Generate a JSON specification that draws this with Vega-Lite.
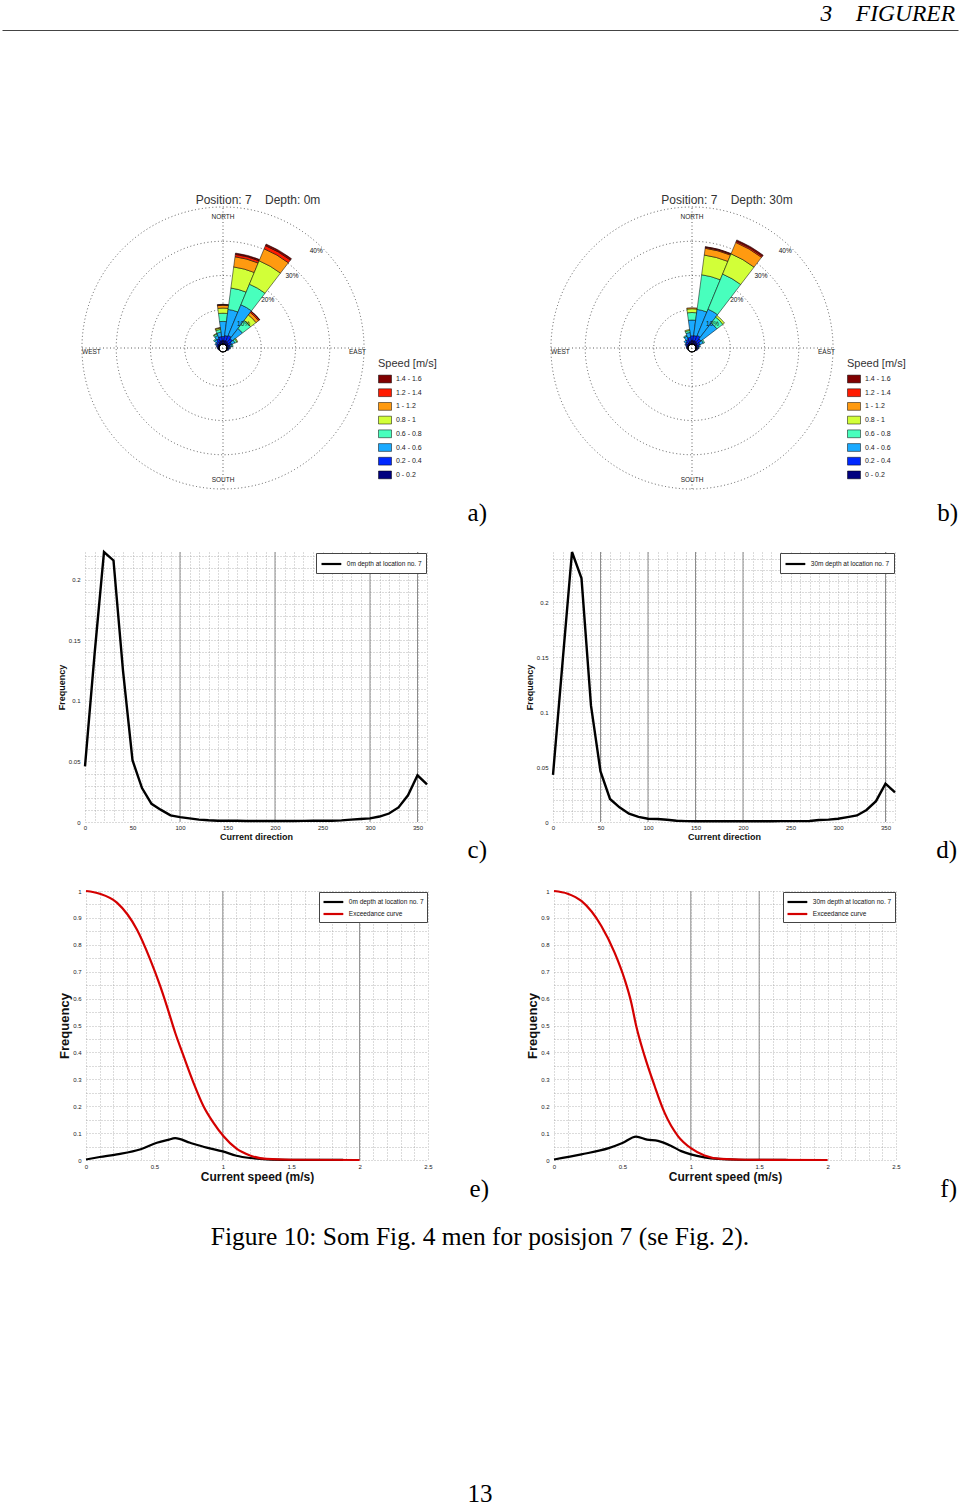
{
"$schema": "https://vega.github.io/schema/vega-lite/v6.json",
"background": "white",
"padding": {"left": 2, "right": 2, "top": 1, "bottom": 0},
"config": {"view": {"stroke": null}, "font": "Liberation Sans", "concat": {"spacing": 0}},
"datasets": {
"one": [{}],
"rings": [{"ring": 10, "label": "10%"}, {"ring": 20, "label": "20%"}, {"ring": 30, "label": "30%"}, {"ring": 40, "label": "40%"}],
"solid_c": [{"v": 100}, {"v": 200}, {"v": 300}, {"v": 350}],
"solid_d": [{"v": 50}, {"v": 100}, {"v": 150}, {"v": 200}, {"v": 350}],
"solid_e": [{"v": 1}, {"v": 2}],
"solid_f": [{"v": 1}, {"v": 1.5}],
"rose0": [
{"a0":-7.5,"a1":7.5,"s":"0 - 0.2","r0":0,"r1":1.0},
{"a0":-7.5,"a1":7.5,"s":"0.2 - 0.4","r0":1.0,"r1":2.2},
{"a0":-7.5,"a1":7.5,"s":"0.4 - 0.6","r0":2.2,"r1":6.6},
{"a0":-7.5,"a1":7.5,"s":"0.6 - 0.8","r0":6.6,"r1":9.0},
{"a0":-7.5,"a1":7.5,"s":"0.8 - 1","r0":9.0,"r1":10.5},
{"a0":-7.5,"a1":7.5,"s":"1 - 1.2","r0":10.5,"r1":11.3},
{"a0":-7.5,"a1":7.5,"s":"1.2 - 1.4","r0":11.3,"r1":11.5},
{"a0":-7.5,"a1":7.5,"s":"1.4 - 1.6","r0":11.5,"r1":11.6},
{"a0":7.5,"a1":22.5,"s":"0 - 0.2","r0":0,"r1":1.0},
{"a0":7.5,"a1":22.5,"s":"0.2 - 0.4","r0":1.0,"r1":2.5},
{"a0":7.5,"a1":22.5,"s":"0.4 - 0.6","r0":2.5,"r1":10.2},
{"a0":7.5,"a1":22.5,"s":"0.6 - 0.8","r0":10.2,"r1":16.5},
{"a0":7.5,"a1":22.5,"s":"0.8 - 1","r0":16.5,"r1":22.7},
{"a0":7.5,"a1":22.5,"s":"1 - 1.2","r0":22.7,"r1":25.7},
{"a0":7.5,"a1":22.5,"s":"1.2 - 1.4","r0":25.7,"r1":26.4},
{"a0":7.5,"a1":22.5,"s":"1.4 - 1.6","r0":26.4,"r1":26.8},
{"a0":22.5,"a1":37.5,"s":"0 - 0.2","r0":0,"r1":1.0},
{"a0":22.5,"a1":37.5,"s":"0.2 - 0.4","r0":1.0,"r1":2.8},
{"a0":22.5,"a1":37.5,"s":"0.4 - 0.6","r0":2.8,"r1":12.5},
{"a0":22.5,"a1":37.5,"s":"0.6 - 0.8","r0":12.5,"r1":19.0},
{"a0":22.5,"a1":37.5,"s":"0.8 - 1","r0":19.0,"r1":26.4},
{"a0":22.5,"a1":37.5,"s":"1 - 1.2","r0":26.4,"r1":30.2},
{"a0":22.5,"a1":37.5,"s":"1.2 - 1.4","r0":30.2,"r1":31.2},
{"a0":22.5,"a1":37.5,"s":"1.4 - 1.6","r0":31.2,"r1":31.7},
{"a0":37.5,"a1":52.5,"s":"0 - 0.2","r0":0,"r1":0.8},
{"a0":37.5,"a1":52.5,"s":"0.2 - 0.4","r0":0.8,"r1":2.3},
{"a0":37.5,"a1":52.5,"s":"0.4 - 0.6","r0":2.3,"r1":6.0},
{"a0":37.5,"a1":52.5,"s":"0.6 - 0.8","r0":6.0,"r1":9.0},
{"a0":37.5,"a1":52.5,"s":"0.8 - 1","r0":9.0,"r1":11.0},
{"a0":37.5,"a1":52.5,"s":"1 - 1.2","r0":11.0,"r1":11.9},
{"a0":37.5,"a1":52.5,"s":"1.2 - 1.4","r0":11.9,"r1":12.3},
{"a0":37.5,"a1":52.5,"s":"1.4 - 1.6","r0":12.3,"r1":12.4},
{"a0":52.5,"a1":67.5,"s":"0 - 0.2","r0":0,"r1":0.6},
{"a0":52.5,"a1":67.5,"s":"0.2 - 0.4","r0":0.6,"r1":1.6},
{"a0":52.5,"a1":67.5,"s":"0.4 - 0.6","r0":1.6,"r1":2.6},
{"a0":52.5,"a1":67.5,"s":"0.6 - 0.8","r0":2.6,"r1":3.2},
{"a0":52.5,"a1":67.5,"s":"0.8 - 1","r0":3.2,"r1":3.5},
{"a0":67.5,"a1":82.5,"s":"0 - 0.2","r0":0,"r1":0.5},
{"a0":67.5,"a1":82.5,"s":"0.2 - 0.4","r0":0.5,"r1":1.0},
{"a0":67.5,"a1":82.5,"s":"0.4 - 0.6","r0":1.0,"r1":1.5},
{"a0":67.5,"a1":82.5,"s":"0.6 - 0.8","r0":1.5,"r1":1.8},
{"a0":82.5,"a1":97.5,"s":"0 - 0.2","r0":0,"r1":0.4},
{"a0":82.5,"a1":97.5,"s":"0.2 - 0.4","r0":0.4,"r1":0.8},
{"a0":82.5,"a1":97.5,"s":"0.4 - 0.6","r0":0.8,"r1":1.0},
{"a0":97.5,"a1":112.5,"s":"0 - 0.2","r0":0,"r1":0.3},
{"a0":97.5,"a1":112.5,"s":"0.2 - 0.4","r0":0.3,"r1":0.6},
{"a0":112.5,"a1":127.5,"s":"0 - 0.2","r0":0,"r1":0.3},
{"a0":247.5,"a1":262.5,"s":"0 - 0.2","r0":0,"r1":0.3},
{"a0":262.5,"a1":277.5,"s":"0 - 0.2","r0":0,"r1":0.3},
{"a0":262.5,"a1":277.5,"s":"0.2 - 0.4","r0":0.3,"r1":0.5},
{"a0":277.5,"a1":292.5,"s":"0 - 0.2","r0":0,"r1":0.4},
{"a0":277.5,"a1":292.5,"s":"0.2 - 0.4","r0":0.4,"r1":0.8},
{"a0":292.5,"a1":307.5,"s":"0 - 0.2","r0":0,"r1":0.5},
{"a0":292.5,"a1":307.5,"s":"0.2 - 0.4","r0":0.5,"r1":1.0},
{"a0":292.5,"a1":307.5,"s":"0.4 - 0.6","r0":1.0,"r1":1.4},
{"a0":307.5,"a1":322.5,"s":"0 - 0.2","r0":0,"r1":0.6},
{"a0":307.5,"a1":322.5,"s":"0.2 - 0.4","r0":0.6,"r1":1.3},
{"a0":307.5,"a1":322.5,"s":"0.4 - 0.6","r0":1.3,"r1":2.0},
{"a0":307.5,"a1":322.5,"s":"0.6 - 0.8","r0":2.0,"r1":2.3},
{"a0":322.5,"a1":337.5,"s":"0 - 0.2","r0":0,"r1":0.8},
{"a0":322.5,"a1":337.5,"s":"0.2 - 0.4","r0":0.8,"r1":1.8},
{"a0":322.5,"a1":337.5,"s":"0.4 - 0.6","r0":1.8,"r1":2.8},
{"a0":322.5,"a1":337.5,"s":"0.6 - 0.8","r0":2.8,"r1":3.3},
{"a0":322.5,"a1":337.5,"s":"0.8 - 1","r0":3.3,"r1":3.5},
{"a0":337.5,"a1":352.5,"s":"0 - 0.2","r0":0,"r1":1.0},
{"a0":337.5,"a1":352.5,"s":"0.2 - 0.4","r0":1.0,"r1":2.2},
{"a0":337.5,"a1":352.5,"s":"0.4 - 0.6","r0":2.2,"r1":3.5},
{"a0":337.5,"a1":352.5,"s":"0.6 - 0.8","r0":3.5,"r1":4.3},
{"a0":337.5,"a1":352.5,"s":"0.8 - 1","r0":4.3,"r1":4.7},
{"a0":337.5,"a1":352.5,"s":"1 - 1.2","r0":4.7,"r1":4.9}
],
"rose30": [
{"a0":-7.5,"a1":7.5,"s":"0 - 0.2","r0":0,"r1":1.0},
{"a0":-7.5,"a1":7.5,"s":"0.2 - 0.4","r0":1.0,"r1":2.4},
{"a0":-7.5,"a1":7.5,"s":"0.4 - 0.6","r0":2.4,"r1":7.0},
{"a0":-7.5,"a1":7.5,"s":"0.6 - 0.8","r0":7.0,"r1":9.2},
{"a0":-7.5,"a1":7.5,"s":"0.8 - 1","r0":9.2,"r1":10.3},
{"a0":-7.5,"a1":7.5,"s":"1 - 1.2","r0":10.3,"r1":10.6},
{"a0":7.5,"a1":22.5,"s":"0 - 0.2","r0":0,"r1":1.0},
{"a0":7.5,"a1":22.5,"s":"0.2 - 0.4","r0":1.0,"r1":2.5},
{"a0":7.5,"a1":22.5,"s":"0.4 - 0.6","r0":2.5,"r1":10.2},
{"a0":7.5,"a1":22.5,"s":"0.6 - 0.8","r0":10.2,"r1":20.4},
{"a0":7.5,"a1":22.5,"s":"0.8 - 1","r0":20.4,"r1":26.2},
{"a0":7.5,"a1":22.5,"s":"1 - 1.2","r0":26.2,"r1":28.2},
{"a0":7.5,"a1":22.5,"s":"1.2 - 1.4","r0":28.2,"r1":28.5},
{"a0":7.5,"a1":22.5,"s":"1.4 - 1.6","r0":28.5,"r1":28.7},
{"a0":22.5,"a1":37.5,"s":"0 - 0.2","r0":0,"r1":1.0},
{"a0":22.5,"a1":37.5,"s":"0.2 - 0.4","r0":1.0,"r1":2.8},
{"a0":22.5,"a1":37.5,"s":"0.4 - 0.6","r0":2.8,"r1":11.1},
{"a0":22.5,"a1":37.5,"s":"0.6 - 0.8","r0":11.1,"r1":22.2},
{"a0":22.5,"a1":37.5,"s":"0.8 - 1","r0":22.2,"r1":28.6},
{"a0":22.5,"a1":37.5,"s":"1 - 1.2","r0":28.6,"r1":32.2},
{"a0":22.5,"a1":37.5,"s":"1.2 - 1.4","r0":32.2,"r1":32.6},
{"a0":22.5,"a1":37.5,"s":"1.4 - 1.6","r0":32.6,"r1":33.0},
{"a0":37.5,"a1":52.5,"s":"0 - 0.2","r0":0,"r1":0.8},
{"a0":37.5,"a1":52.5,"s":"0.2 - 0.4","r0":0.8,"r1":2.2},
{"a0":37.5,"a1":52.5,"s":"0.4 - 0.6","r0":2.2,"r1":8.0},
{"a0":37.5,"a1":52.5,"s":"0.6 - 0.8","r0":8.0,"r1":10.2},
{"a0":37.5,"a1":52.5,"s":"0.8 - 1","r0":10.2,"r1":10.8},
{"a0":52.5,"a1":67.5,"s":"0 - 0.2","r0":0,"r1":0.6},
{"a0":52.5,"a1":67.5,"s":"0.2 - 0.4","r0":0.6,"r1":1.4},
{"a0":52.5,"a1":67.5,"s":"0.4 - 0.6","r0":1.4,"r1":2.4},
{"a0":52.5,"a1":67.5,"s":"0.6 - 0.8","r0":2.4,"r1":2.8},
{"a0":67.5,"a1":82.5,"s":"0 - 0.2","r0":0,"r1":0.4},
{"a0":67.5,"a1":82.5,"s":"0.2 - 0.4","r0":0.4,"r1":0.9},
{"a0":67.5,"a1":82.5,"s":"0.4 - 0.6","r0":0.9,"r1":1.3},
{"a0":82.5,"a1":97.5,"s":"0 - 0.2","r0":0,"r1":0.3},
{"a0":82.5,"a1":97.5,"s":"0.2 - 0.4","r0":0.3,"r1":0.7},
{"a0":82.5,"a1":97.5,"s":"0.4 - 0.6","r0":0.7,"r1":0.9},
{"a0":97.5,"a1":112.5,"s":"0 - 0.2","r0":0,"r1":0.3},
{"a0":97.5,"a1":112.5,"s":"0.2 - 0.4","r0":0.3,"r1":0.5},
{"a0":112.5,"a1":127.5,"s":"0 - 0.2","r0":0,"r1":0.3},
{"a0":247.5,"a1":262.5,"s":"0 - 0.2","r0":0,"r1":0.2},
{"a0":262.5,"a1":277.5,"s":"0 - 0.2","r0":0,"r1":0.3},
{"a0":262.5,"a1":277.5,"s":"0.2 - 0.4","r0":0.3,"r1":0.4},
{"a0":277.5,"a1":292.5,"s":"0 - 0.2","r0":0,"r1":0.3},
{"a0":277.5,"a1":292.5,"s":"0.2 - 0.4","r0":0.3,"r1":0.6},
{"a0":292.5,"a1":307.5,"s":"0 - 0.2","r0":0,"r1":0.4},
{"a0":292.5,"a1":307.5,"s":"0.2 - 0.4","r0":0.4,"r1":0.9},
{"a0":292.5,"a1":307.5,"s":"0.4 - 0.6","r0":0.9,"r1":1.1},
{"a0":307.5,"a1":322.5,"s":"0 - 0.2","r0":0,"r1":0.5},
{"a0":307.5,"a1":322.5,"s":"0.2 - 0.4","r0":0.5,"r1":1.2},
{"a0":307.5,"a1":322.5,"s":"0.4 - 0.6","r0":1.2,"r1":1.8},
{"a0":322.5,"a1":337.5,"s":"0 - 0.2","r0":0,"r1":0.6},
{"a0":322.5,"a1":337.5,"s":"0.2 - 0.4","r0":0.6,"r1":1.6},
{"a0":322.5,"a1":337.5,"s":"0.4 - 0.6","r0":1.6,"r1":2.6},
{"a0":322.5,"a1":337.5,"s":"0.6 - 0.8","r0":2.6,"r1":2.9},
{"a0":337.5,"a1":352.5,"s":"0 - 0.2","r0":0,"r1":0.8},
{"a0":337.5,"a1":352.5,"s":"0.2 - 0.4","r0":0.8,"r1":2.0},
{"a0":337.5,"a1":352.5,"s":"0.4 - 0.6","r0":2.0,"r1":3.4},
{"a0":337.5,"a1":352.5,"s":"0.6 - 0.8","r0":3.4,"r1":4.0},
{"a0":337.5,"a1":352.5,"s":"0.8 - 1","r0":4.0,"r1":4.3}
],
"dir0": [
{"direction":0,"frequency":0.046},{"direction":10,"frequency":0.138},{"direction":20,"frequency":0.223},{"direction":30,"frequency":0.216},
{"direction":40,"frequency":0.125},{"direction":50,"frequency":0.051},{"direction":60,"frequency":0.028},{"direction":70,"frequency":0.015},
{"direction":80,"frequency":0.01},{"direction":90,"frequency":0.0055},{"direction":100,"frequency":0.004},{"direction":110,"frequency":0.003},
{"direction":120,"frequency":0.002},{"direction":130,"frequency":0.0014},{"direction":140,"frequency":0.001},{"direction":150,"frequency":0.001},
{"direction":160,"frequency":0.001},{"direction":170,"frequency":0.0008},{"direction":180,"frequency":0.0008},{"direction":190,"frequency":0.0008},
{"direction":200,"frequency":0.0009},{"direction":210,"frequency":0.0008},{"direction":220,"frequency":0.0008},{"direction":230,"frequency":0.0009},
{"direction":240,"frequency":0.001},{"direction":250,"frequency":0.001},{"direction":260,"frequency":0.001},{"direction":270,"frequency":0.0013},
{"direction":280,"frequency":0.002},{"direction":290,"frequency":0.0025},{"direction":300,"frequency":0.003},{"direction":310,"frequency":0.0045},
{"direction":320,"frequency":0.007},{"direction":330,"frequency":0.012},{"direction":340,"frequency":0.022},{"direction":350,"frequency":0.0386},
{"direction":360,"frequency":0.031}
],
"dir30": [
{"direction":0,"frequency":0.043},{"direction":10,"frequency":0.145},{"direction":20,"frequency":0.246},{"direction":30,"frequency":0.222},
{"direction":40,"frequency":0.106},{"direction":50,"frequency":0.046},{"direction":60,"frequency":0.021},{"direction":70,"frequency":0.0134},
{"direction":80,"frequency":0.0076},{"direction":90,"frequency":0.0046},{"direction":100,"frequency":0.003},{"direction":110,"frequency":0.0027},
{"direction":120,"frequency":0.002},{"direction":130,"frequency":0.0012},{"direction":140,"frequency":0.0008},{"direction":150,"frequency":0.0007},
{"direction":160,"frequency":0.0007},{"direction":170,"frequency":0.0007},{"direction":180,"frequency":0.0007},{"direction":190,"frequency":0.0007},
{"direction":200,"frequency":0.0007},{"direction":210,"frequency":0.0007},{"direction":220,"frequency":0.0007},{"direction":230,"frequency":0.0007},
{"direction":240,"frequency":0.0008},{"direction":250,"frequency":0.0008},{"direction":260,"frequency":0.0008},{"direction":270,"frequency":0.0009},
{"direction":280,"frequency":0.0018},{"direction":290,"frequency":0.0022},{"direction":300,"frequency":0.003},{"direction":310,"frequency":0.0045},
{"direction":320,"frequency":0.006},{"direction":330,"frequency":0.011},{"direction":340,"frequency":0.019},{"direction":350,"frequency":0.035},
{"direction":360,"frequency":0.027}
],
"spd0": [
{"speed":0,"frequency":0.002,"series":"0m depth at location no. 7"},
{"speed":0.1,"frequency":0.011,"series":"0m depth at location no. 7"},
{"speed":0.226,"frequency":0.021,"series":"0m depth at location no. 7"},
{"speed":0.4,"frequency":0.04,"series":"0m depth at location no. 7"},
{"speed":0.518,"frequency":0.064,"series":"0m depth at location no. 7"},
{"speed":0.6,"frequency":0.075,"series":"0m depth at location no. 7"},
{"speed":0.652,"frequency":0.081,"series":"0m depth at location no. 7"},
{"speed":0.761,"frequency":0.064,"series":"0m depth at location no. 7"},
{"speed":0.883,"frequency":0.046,"series":"0m depth at location no. 7"},
{"speed":1.0,"frequency":0.032,"series":"0m depth at location no. 7"},
{"speed":1.1,"frequency":0.016,"series":"0m depth at location no. 7"},
{"speed":1.2,"frequency":0.0075,"series":"0m depth at location no. 7"},
{"speed":1.32,"frequency":0.0025,"series":"0m depth at location no. 7"},
{"speed":1.5,"frequency":0.0008,"series":"0m depth at location no. 7"},
{"speed":1.88,"frequency":0.0002,"series":"0m depth at location no. 7"},
{"speed":0,"frequency":1.0,"series":"Exceedance curve"},
{"speed":0.1,"frequency":0.99,"series":"Exceedance curve"},
{"speed":0.226,"frequency":0.957,"series":"Exceedance curve"},
{"speed":0.372,"frequency":0.857,"series":"Exceedance curve"},
{"speed":0.469,"frequency":0.746,"series":"Exceedance curve"},
{"speed":0.542,"frequency":0.647,"series":"Exceedance curve"},
{"speed":0.591,"frequency":0.572,"series":"Exceedance curve"},
{"speed":0.652,"frequency":0.473,"series":"Exceedance curve"},
{"speed":0.713,"frequency":0.387,"series":"Exceedance curve"},
{"speed":0.786,"frequency":0.287,"series":"Exceedance curve"},
{"speed":0.858,"frequency":0.201,"series":"Exceedance curve"},
{"speed":0.931,"frequency":0.139,"series":"Exceedance curve"},
{"speed":1.004,"frequency":0.089,"series":"Exceedance curve"},
{"speed":1.1,"frequency":0.042,"series":"Exceedance curve"},
{"speed":1.199,"frequency":0.017,"series":"Exceedance curve"},
{"speed":1.32,"frequency":0.004,"series":"Exceedance curve"},
{"speed":1.5,"frequency":0.001,"series":"Exceedance curve"},
{"speed":2.0,"frequency":0,"series":"Exceedance curve"}
],
"spd30": [
{"speed":0,"frequency":0.002,"series":"30m depth at location no. 7"},
{"speed":0.2,"frequency":0.021,"series":"30m depth at location no. 7"},
{"speed":0.4,"frequency":0.044,"series":"30m depth at location no. 7"},
{"speed":0.5,"frequency":0.063,"series":"30m depth at location no. 7"},
{"speed":0.6,"frequency":0.087,"series":"30m depth at location no. 7"},
{"speed":0.68,"frequency":0.076,"series":"30m depth at location no. 7"},
{"speed":0.76,"frequency":0.071,"series":"30m depth at location no. 7"},
{"speed":0.857,"frequency":0.052,"series":"30m depth at location no. 7"},
{"speed":0.93,"frequency":0.033,"series":"30m depth at location no. 7"},
{"speed":1.0,"frequency":0.021,"series":"30m depth at location no. 7"},
{"speed":1.1,"frequency":0.01,"series":"30m depth at location no. 7"},
{"speed":1.2,"frequency":0.004,"series":"30m depth at location no. 7"},
{"speed":1.35,"frequency":0.001,"series":"30m depth at location no. 7"},
{"speed":1.7,"frequency":0.0002,"series":"30m depth at location no. 7"},
{"speed":0,"frequency":1.0,"series":"Exceedance curve"},
{"speed":0.1,"frequency":0.99,"series":"Exceedance curve"},
{"speed":0.2,"frequency":0.963,"series":"Exceedance curve"},
{"speed":0.346,"frequency":0.87,"series":"Exceedance curve"},
{"speed":0.443,"frequency":0.771,"series":"Exceedance curve"},
{"speed":0.516,"frequency":0.672,"series":"Exceedance curve"},
{"speed":0.565,"frequency":0.585,"series":"Exceedance curve"},
{"speed":0.601,"frequency":0.498,"series":"Exceedance curve"},
{"speed":0.662,"frequency":0.387,"series":"Exceedance curve"},
{"speed":0.735,"frequency":0.276,"series":"Exceedance curve"},
{"speed":0.808,"frequency":0.176,"series":"Exceedance curve"},
{"speed":0.906,"frequency":0.089,"series":"Exceedance curve"},
{"speed":1.003,"frequency":0.043,"series":"Exceedance curve"},
{"speed":1.1,"frequency":0.017,"series":"Exceedance curve"},
{"speed":1.22,"frequency":0.004,"series":"Exceedance curve"},
{"speed":1.4,"frequency":0.001,"series":"Exceedance curve"},
{"speed":2.0,"frequency":0,"series":"Exceedance curve"}
]
},
"spacing": 0,
"resolve": {"scale": {"color": "independent"}, "legend": {"color": "independent"}},
"vconcat": [
{"width": 956, "height": 28, "data": {"name": "one"},
 "mark": {"type": "text", "align": "right", "baseline": "alphabetic", "font": "Liberation Serif", "fontSize": 23.5, "fontStyle": "italic", "dy": 4.8, "color": "black"},
 "encoding": {
  "x": {"datum": 953, "type": "quantitative", "scale": {"domain": [0, 956], "nice": false, "zero": false}, "axis": {"domain": true, "domainColor": "#444", "domainWidth": 1, "ticks": false, "labels": false, "grid": false, "title": null}},
  "text": {"value": "3\u00a0\u00a0\u00a0\u00a0FIGURER"}}},
{"width": 956, "height": 163.8, "data": {"name": "one"}, "mark": "text", "encoding": {"text": {"value": ""}}},
{"hconcat": [
 {"width": 79.7, "height": 1, "data": {"name": "one"}, "mark": "text", "encoding": {"text": {"value": ""}}},
 {"width": 282, "height": 282,
  "title": {"text": "Position: 7\u00a0\u00a0\u00a0\u00a0Depth: 0m", "dx": 35, "fontSize": 12, "fontWeight": "normal", "font": "Liberation Sans", "color": "#333", "offset": -2},
  "layer": [
   {"data": {"name": "rings"}, "mark": {"type": "arc", "filled": false, "fill": null, "stroke": "#333", "strokeWidth": 0.8, "strokeDash": [1, 2.5]},
    "encoding": {"theta": {"datum": 0, "type": "quantitative", "scale": {"domain": [0, 360], "range": [0, 6.283185307179586]}}, "theta2": {"datum": 360},
     "radius": {"field": "ring", "type": "quantitative", "stack": null, "scale": {"type": "linear", "domain": [0, 40], "range": [4, 141], "zero": false}}}},
   {"data": {"name": "one"}, "mark": {"type": "rule", "stroke": "#333", "strokeWidth": 0.8, "strokeDash": [1, 2.5]},
    "encoding": {"x": {"datum": -40, "type": "quantitative", "scale": {"domain": [-40, 40], "nice": false, "zero": false}, "axis": null}, "x2": {"datum": 40},
     "y": {"datum": 0, "type": "quantitative", "scale": {"domain": [-40, 40], "nice": false, "zero": false}, "axis": null}}},
   {"data": {"name": "one"}, "mark": {"type": "rule", "stroke": "#333", "strokeWidth": 0.8, "strokeDash": [1, 2.5]},
    "encoding": {"x": {"datum": 0, "type": "quantitative"}, "y": {"datum": -40, "type": "quantitative"}, "y2": {"datum": 40}}},
   {"data": {"name": "rose0"}, "mark": {"type": "arc", "stroke": "#000", "strokeWidth": 0.5},
    "encoding": {
     "theta": {"field": "a0", "type": "quantitative", "stack": null}, "theta2": {"field": "a1"},
     "radius": {"field": "r1", "type": "quantitative", "stack": null}, "radius2": {"field": "r0"},
     "color": {"field": "s", "type": "nominal",
      "scale": {"domain": ["1.4 - 1.6", "1.2 - 1.4", "1 - 1.2", "0.8 - 1", "0.6 - 0.8", "0.4 - 0.6", "0.2 - 0.4", "0 - 0.2"],
                "range": ["#800000", "#ff1a00", "#ff9a10", "#d2ff38", "#48ffbd", "#1aaaff", "#0028ff", "#00007f"]},
      "legend": {"title": "Speed [m/s]", "orient": "none", "legendX": 296, "legendY": 151, "titleFontSize": 11, "titleFont": "Liberation Sans", "titleFontWeight": "normal", "titleColor": "#333", "titlePadding": 3,
                 "labelFontSize": 7, "labelFont": "Liberation Sans", "labelColor": "#222", "labelOffset": 4, "symbolType": "M-1,-0.6H1V0.6H-1Z", "symbolSize": 169,
                 "symbolStrokeColor": "black", "symbolStrokeWidth": 0.5, "rowPadding": 1.7, "padding": 0}}}},
   {"data": {"name": "one"}, "mark": {"type": "arc", "fill": "white", "stroke": "black", "strokeWidth": 1},
    "encoding": {"theta": {"datum": 0, "type": "quantitative"}, "theta2": {"datum": 360}, "radius": {"datum": 0, "type": "quantitative"}}},
   {"data": {"name": "rings"}, "mark": {"type": "text", "align": "right", "baseline": "top", "fontSize": 6.5, "font": "Liberation Sans", "color": "#111"},
    "encoding": {"theta": {"datum": 45, "type": "quantitative"}, "radius": {"field": "ring", "type": "quantitative", "stack": null}, "text": {"field": "label"}}},
   {"data": {"name": "one"}, "mark": {"type": "text", "align": "center", "baseline": "middle", "dy": 9.5, "fontSize": 6.5, "font": "Liberation Sans", "color": "#222"},
    "encoding": {"theta": {"datum": 0, "type": "quantitative"}, "radius": {"datum": 40, "type": "quantitative"}, "text": {"value": "NORTH"}}},
   {"data": {"name": "one"}, "mark": {"type": "text", "align": "center", "baseline": "middle", "dy": -9.3, "fontSize": 6.5, "font": "Liberation Sans", "color": "#222"},
    "encoding": {"theta": {"datum": 180, "type": "quantitative"}, "radius": {"datum": 40, "type": "quantitative"}, "text": {"value": "SOUTH"}}},
   {"data": {"name": "one"}, "mark": {"type": "text", "align": "left", "baseline": "middle", "dy": 4.4, "fontSize": 6.5, "font": "Liberation Sans", "color": "#222"},
    "encoding": {"theta": {"datum": 270, "type": "quantitative"}, "radius": {"datum": 40, "type": "quantitative"}, "text": {"value": "WEST"}}},
   {"data": {"name": "one"}, "mark": {"type": "text", "align": "right", "baseline": "middle", "dy": 4.4, "dx": 2, "fontSize": 6.5, "font": "Liberation Sans", "color": "#222"},
    "encoding": {"theta": {"datum": 90, "type": "quantitative"}, "radius": {"datum": 40, "type": "quantitative"}, "text": {"value": "EAST"}}},
   {"data": {"name": "one"}, "mark": {"type": "text", "align": "right", "baseline": "alphabetic", "font": "Liberation Serif", "fontSize": 25, "color": "black", "dx": 123, "dy": 31.7},
    "encoding": {"x": {"value": "width"}, "y": {"value": "height"}, "text": {"value": "a)"}}}
  ]},
 {"width": 186.3, "height": 1, "data": {"name": "one"}, "mark": "text", "encoding": {"text": {"value": ""}}},
 {"width": 282, "height": 282,
  "title": {"text": "Position: 7\u00a0\u00a0\u00a0\u00a0Depth: 30m", "dx": 35, "fontSize": 12, "fontWeight": "normal", "font": "Liberation Sans", "color": "#333", "offset": -2},
  "layer": [
   {"data": {"name": "rings"}, "mark": {"type": "arc", "filled": false, "fill": null, "stroke": "#333", "strokeWidth": 0.8, "strokeDash": [1, 2.5]},
    "encoding": {"theta": {"datum": 0, "type": "quantitative", "scale": {"domain": [0, 360], "range": [0, 6.283185307179586]}}, "theta2": {"datum": 360},
     "radius": {"field": "ring", "type": "quantitative", "stack": null, "scale": {"type": "linear", "domain": [0, 40], "range": [4, 141], "zero": false}}}},
   {"data": {"name": "one"}, "mark": {"type": "rule", "stroke": "#333", "strokeWidth": 0.8, "strokeDash": [1, 2.5]},
    "encoding": {"x": {"datum": -40, "type": "quantitative", "scale": {"domain": [-40, 40], "nice": false, "zero": false}, "axis": null}, "x2": {"datum": 40},
     "y": {"datum": 0, "type": "quantitative", "scale": {"domain": [-40, 40], "nice": false, "zero": false}, "axis": null}}},
   {"data": {"name": "one"}, "mark": {"type": "rule", "stroke": "#333", "strokeWidth": 0.8, "strokeDash": [1, 2.5]},
    "encoding": {"x": {"datum": 0, "type": "quantitative"}, "y": {"datum": -40, "type": "quantitative"}, "y2": {"datum": 40}}},
   {"data": {"name": "rose30"}, "mark": {"type": "arc", "stroke": "#000", "strokeWidth": 0.5},
    "encoding": {
     "theta": {"field": "a0", "type": "quantitative", "stack": null}, "theta2": {"field": "a1"},
     "radius": {"field": "r1", "type": "quantitative", "stack": null}, "radius2": {"field": "r0"},
     "color": {"field": "s", "type": "nominal",
      "scale": {"domain": ["1.4 - 1.6", "1.2 - 1.4", "1 - 1.2", "0.8 - 1", "0.6 - 0.8", "0.4 - 0.6", "0.2 - 0.4", "0 - 0.2"],
                "range": ["#800000", "#ff1a00", "#ff9a10", "#d2ff38", "#48ffbd", "#1aaaff", "#0028ff", "#00007f"]},
      "legend": {"title": "Speed [m/s]", "orient": "none", "legendX": 296, "legendY": 151, "titleFontSize": 11, "titleFont": "Liberation Sans", "titleFontWeight": "normal", "titleColor": "#333", "titlePadding": 3,
                 "labelFontSize": 7, "labelFont": "Liberation Sans", "labelColor": "#222", "labelOffset": 4, "symbolType": "M-1,-0.6H1V0.6H-1Z", "symbolSize": 169,
                 "symbolStrokeColor": "black", "symbolStrokeWidth": 0.5, "rowPadding": 1.7, "padding": 0}}}},
   {"data": {"name": "one"}, "mark": {"type": "arc", "fill": "white", "stroke": "black", "strokeWidth": 1},
    "encoding": {"theta": {"datum": 0, "type": "quantitative"}, "theta2": {"datum": 360}, "radius": {"datum": 0, "type": "quantitative"}}},
   {"data": {"name": "rings"}, "mark": {"type": "text", "align": "right", "baseline": "top", "fontSize": 6.5, "font": "Liberation Sans", "color": "#111"},
    "encoding": {"theta": {"datum": 45, "type": "quantitative"}, "radius": {"field": "ring", "type": "quantitative", "stack": null}, "text": {"field": "label"}}},
   {"data": {"name": "one"}, "mark": {"type": "text", "align": "center", "baseline": "middle", "dy": 9.5, "fontSize": 6.5, "font": "Liberation Sans", "color": "#222"},
    "encoding": {"theta": {"datum": 0, "type": "quantitative"}, "radius": {"datum": 40, "type": "quantitative"}, "text": {"value": "NORTH"}}},
   {"data": {"name": "one"}, "mark": {"type": "text", "align": "center", "baseline": "middle", "dy": -9.3, "fontSize": 6.5, "font": "Liberation Sans", "color": "#222"},
    "encoding": {"theta": {"datum": 180, "type": "quantitative"}, "radius": {"datum": 40, "type": "quantitative"}, "text": {"value": "SOUTH"}}},
   {"data": {"name": "one"}, "mark": {"type": "text", "align": "left", "baseline": "middle", "dy": 4.4, "fontSize": 6.5, "font": "Liberation Sans", "color": "#222"},
    "encoding": {"theta": {"datum": 270, "type": "quantitative"}, "radius": {"datum": 40, "type": "quantitative"}, "text": {"value": "WEST"}}},
   {"data": {"name": "one"}, "mark": {"type": "text", "align": "right", "baseline": "middle", "dy": 4.4, "dx": 2, "fontSize": 6.5, "font": "Liberation Sans", "color": "#222"},
    "encoding": {"theta": {"datum": 90, "type": "quantitative"}, "radius": {"datum": 40, "type": "quantitative"}, "text": {"value": "EAST"}}},
   {"data": {"name": "one"}, "mark": {"type": "text", "align": "right", "baseline": "alphabetic", "font": "Liberation Serif", "fontSize": 25, "color": "black", "dx": 125, "dy": 31.7},
    "encoding": {"x": {"value": "width"}, "y": {"value": "height"}, "text": {"value": "b)"}}}
  ]}
 ], "spacing": 0, "bounds": "flush", "resolve": {"scale": {"color": "independent"}, "legend": {"color": "independent"}}},
{"width": 956, "height": 19.2, "data": {"name": "one"}, "mark": "text", "encoding": {"text": {"value": ""}}},
{"hconcat": [
 {"width": 83, "height": 1, "data": {"name": "one"}, "mark": "text", "encoding": {"text": {"value": ""}}},
 {"width": 342, "height": 270,
  "layer": [
   {"data": {"name": "solid_c"}, "mark": {"type": "rule", "stroke": "#8c8c8c", "strokeWidth": 1},
    "encoding": {"x": {"field": "v", "type": "quantitative", "title": "Current direction", "scale": {"domain": [0, 360], "nice": false, "zero": false},
      "axis": {"values": [0,10,20,30,40,50,60,70,80,90,100,110,120,130,140,150,160,170,180,190,200,210,220,230,240,250,260,270,280,290,300,310,320,330,340,350,360],
       "labelExpr": "datum.value % 50 === 0 ? '' + datum.value : ''", "grid": true, "gridDash": [1, 2], "gridColor": "#999", "gridWidth": 0.7, "ticks": false, "domain": false,
       "labelFontSize": 6, "labelPadding": 2, "labelColor": "#222", "labelOverlap": false, "labelFlush": false, "labelBound": false,
       "titleFontSize": 9, "titleFontWeight": "bold", "titlePadding": 2, "titleColor": "#111"}}}},
   {"data": {"name": "dir0"}, "mark": {"type": "line", "strokeWidth": 2.4, "color": "black"},
    "encoding": {
     "x": {"field": "direction", "type": "quantitative", "title": "Current direction",
      "axis": {"values": [0,10,20,30,40,50,60,70,80,90,100,110,120,130,140,150,160,170,180,190,200,210,220,230,240,250,260,270,280,290,300,310,320,330,340,350,360],
       "labelExpr": "datum.value % 50 === 0 ? '' + datum.value : ''", "grid": true, "gridDash": [1, 2], "gridColor": "#999", "gridWidth": 0.7, "ticks": false, "domain": false,
       "labelFontSize": 6, "labelPadding": 2, "labelColor": "#222", "labelOverlap": false, "labelFlush": false, "labelBound": false,
       "titleFontSize": 9, "titleFontWeight": "bold", "titlePadding": 2, "titleColor": "#111"}},
     "y": {"field": "frequency", "type": "quantitative", "title": "Frequency", "scale": {"domain": [0, 0.223], "nice": false},
      "axis": {"values": [0,0.01,0.02,0.03,0.04,0.05,0.06,0.07,0.08,0.09,0.1,0.11,0.12,0.13,0.14,0.15,0.16,0.17,0.18,0.19,0.2,0.21,0.22],
       "labelExpr": "round(datum.value*100) % 5 === 0 ? '' + round(datum.value*100)/100 : ''", "grid": true, "gridDash": [1, 2], "gridColor": "#999", "gridWidth": 0.7, "ticks": false, "domain": false,
       "labelFontSize": 6, "labelPadding": 5, "labelColor": "#222", "labelOverlap": false, "labelFlush": false, "labelBound": false,
       "titleFontSize": 9, "titleFontWeight": "bold", "titlePadding": 2, "titleColor": "#111"}},
     "color": {"datum": "0m depth at location no. 7", "scale": {"range": ["black"]},
      "legend": {"title": null, "orient": "top-right", "offset": 1, "strokeColor": "#444", "fillColor": "white", "padding": 4, "labelFontSize": 6.5, "labelColor": "#111",
       "symbolType": "M-1,0H2.6", "symbolSize": 121, "symbolStrokeWidth": 2.2, "labelOffset": 12.8, "rowPadding": 0,
       "labelExpr": "datum.label + '\u00a0\u00a0\u00a0\u00a0\u00a0'"}}}},
   {"data": {"name": "one"}, "mark": {"type": "text", "align": "right", "baseline": "alphabetic", "font": "Liberation Serif", "fontSize": 25, "color": "black", "dx": 60, "dy": 36},
    "encoding": {"x": {"value": "width"}, "y": {"value": "height"}, "text": {"value": "c)"}}}
  ]},
 {"width": 126, "height": 1, "data": {"name": "one"}, "mark": "text", "encoding": {"text": {"value": ""}}},
 {"width": 342, "height": 270,
  "layer": [
   {"data": {"name": "solid_d"}, "mark": {"type": "rule", "stroke": "#8c8c8c", "strokeWidth": 1},
    "encoding": {"x": {"field": "v", "type": "quantitative", "title": "Current direction", "scale": {"domain": [0, 360], "nice": false, "zero": false},
      "axis": {"values": [0,10,20,30,40,50,60,70,80,90,100,110,120,130,140,150,160,170,180,190,200,210,220,230,240,250,260,270,280,290,300,310,320,330,340,350,360],
       "labelExpr": "datum.value % 50 === 0 ? '' + datum.value : ''", "grid": true, "gridDash": [1, 2], "gridColor": "#999", "gridWidth": 0.7, "ticks": false, "domain": false,
       "labelFontSize": 6, "labelPadding": 2, "labelColor": "#222", "labelOverlap": false, "labelFlush": false, "labelBound": false,
       "titleFontSize": 9, "titleFontWeight": "bold", "titlePadding": 2, "titleColor": "#111"}}}},
   {"data": {"name": "dir30"}, "mark": {"type": "line", "strokeWidth": 2.4, "color": "black"},
    "encoding": {
     "x": {"field": "direction", "type": "quantitative", "title": "Current direction",
      "axis": {"values": [0,10,20,30,40,50,60,70,80,90,100,110,120,130,140,150,160,170,180,190,200,210,220,230,240,250,260,270,280,290,300,310,320,330,340,350,360],
       "labelExpr": "datum.value % 50 === 0 ? '' + datum.value : ''", "grid": true, "gridDash": [1, 2], "gridColor": "#999", "gridWidth": 0.7, "ticks": false, "domain": false,
       "labelFontSize": 6, "labelPadding": 2, "labelColor": "#222", "labelOverlap": false, "labelFlush": false, "labelBound": false,
       "titleFontSize": 9, "titleFontWeight": "bold", "titlePadding": 2, "titleColor": "#111"}},
     "y": {"field": "frequency", "type": "quantitative", "title": "Frequency", "scale": {"domain": [0, 0.246], "nice": false},
      "axis": {"values": [0,0.01,0.02,0.03,0.04,0.05,0.06,0.07,0.08,0.09,0.1,0.11,0.12,0.13,0.14,0.15,0.16,0.17,0.18,0.19,0.2,0.21,0.22,0.23,0.24],
       "labelExpr": "round(datum.value*100) % 5 === 0 ? '' + round(datum.value*100)/100 : ''", "grid": true, "gridDash": [1, 2], "gridColor": "#999", "gridWidth": 0.7, "ticks": false, "domain": false,
       "labelFontSize": 6, "labelPadding": 5, "labelColor": "#222", "labelOverlap": false, "labelFlush": false, "labelBound": false,
       "titleFontSize": 9, "titleFontWeight": "bold", "titlePadding": 2, "titleColor": "#111"}},
     "color": {"datum": "30m depth at location no. 7", "scale": {"range": ["black"]},
      "legend": {"title": null, "orient": "top-right", "offset": 1, "strokeColor": "#444", "fillColor": "white", "padding": 4, "labelFontSize": 6.5, "labelColor": "#111",
       "symbolType": "M-1,0H2.6", "symbolSize": 121, "symbolStrokeWidth": 2.2, "labelOffset": 12.8, "rowPadding": 0,
       "labelExpr": "datum.label + '\u00a0\u00a0\u00a0\u00a0\u00a0'"}}}},
   {"data": {"name": "one"}, "mark": {"type": "text", "align": "right", "baseline": "alphabetic", "font": "Liberation Serif", "fontSize": 25, "color": "black", "dx": 62, "dy": 36},
    "encoding": {"x": {"value": "width"}, "y": {"value": "height"}, "text": {"value": "d)"}}}
  ]}
 ], "spacing": 0, "bounds": "flush", "resolve": {"scale": {"color": "independent"}, "legend": {"color": "independent"}}},
{"width": 956, "height": 21.1, "data": {"name": "one"}, "mark": "text", "encoding": {"text": {"value": ""}}},
{"hconcat": [
 {"width": 84, "height": 1, "data": {"name": "one"}, "mark": "text", "encoding": {"text": {"value": ""}}},
 {"width": 342, "height": 269,
  "layer": [
   {"data": {"name": "solid_e"}, "mark": {"type": "rule", "stroke": "#8c8c8c", "strokeWidth": 1},
    "encoding": {"x": {"field": "v", "type": "quantitative", "title": "Current speed (m/s)", "scale": {"domain": [0, 2.5], "nice": false, "zero": false},
      "axis": {"values": [0,0.1,0.2,0.3,0.4,0.5,0.6,0.7,0.8,0.9,1,1.1,1.2,1.3,1.4,1.5,1.6,1.7,1.8,1.9,2,2.1,2.2,2.3,2.4,2.5],
       "labelExpr": "round(datum.value*10) % 5 === 0 ? '' + round(datum.value*10)/10 : ''", "grid": true, "gridDash": [1, 2], "gridColor": "#999", "gridWidth": 0.7, "ticks": false, "domain": false,
       "labelFontSize": 6, "labelPadding": 3, "labelColor": "#222", "labelOverlap": false, "labelFlush": false, "labelBound": false,
       "titleFontSize": 12, "titleFontWeight": "bold", "titlePadding": 2, "titleColor": "#111"}}}},
   {"data": {"name": "spd0"}, "mark": {"type": "line", "strokeWidth": 2.2, "interpolate": "monotone"},
    "encoding": {
     "x": {"field": "speed", "type": "quantitative", "title": "Current speed (m/s)",
      "axis": {"values": [0,0.1,0.2,0.3,0.4,0.5,0.6,0.7,0.8,0.9,1,1.1,1.2,1.3,1.4,1.5,1.6,1.7,1.8,1.9,2,2.1,2.2,2.3,2.4,2.5],
       "labelExpr": "round(datum.value*10) % 5 === 0 ? '' + round(datum.value*10)/10 : ''", "grid": true, "gridDash": [1, 2], "gridColor": "#999", "gridWidth": 0.7, "ticks": false, "domain": false,
       "labelFontSize": 6, "labelPadding": 3, "labelColor": "#222", "labelOverlap": false, "labelFlush": false, "labelBound": false,
       "titleFontSize": 12, "titleFontWeight": "bold", "titlePadding": 2, "titleColor": "#111"}},
     "y": {"field": "frequency", "type": "quantitative", "title": "Frequency", "scale": {"domain": [0, 1], "nice": false},
      "axis": {"values": [0,0.05,0.1,0.15,0.2,0.25,0.3,0.35,0.4,0.45,0.5,0.55,0.6,0.65,0.7,0.75,0.8,0.85,0.9,0.95,1],
       "labelExpr": "round(datum.value*100) % 10 === 0 ? '' + round(datum.value*100)/100 : ''", "grid": true, "gridDash": [1, 2], "gridColor": "#999", "gridWidth": 0.7, "ticks": false, "domain": false,
       "labelFontSize": 6, "labelPadding": 5, "labelColor": "#222", "labelOverlap": false, "labelFlush": false, "labelBound": false,
       "titleFontSize": 13, "titleFontWeight": "bold", "titlePadding": 1, "titleColor": "#111"}},
     "color": {"field": "series", "type": "nominal", "sort": null, "scale": {"domain": ["0m depth at location no. 7", "Exceedance curve"], "range": ["black", "#d40000"]},
      "legend": {"title": null, "orient": "top-right", "offset": 1, "strokeColor": "#444", "fillColor": "white", "padding": 3, "labelFontSize": 6.5, "labelColor": "#111",
       "symbolType": "M-1,0H2.6", "symbolSize": 121, "symbolStrokeWidth": 2.2, "labelOffset": 12.8, "rowPadding": 0,
       "labelExpr": "datum.label + '\u00a0\u00a0\u00a0\u00a0\u00a0'"}}}},
   {"data": {"name": "one"}, "mark": {"type": "text", "align": "right", "baseline": "alphabetic", "font": "Liberation Serif", "fontSize": 25, "color": "black", "dx": 61, "dy": 36.5},
    "encoding": {"x": {"value": "width"}, "y": {"value": "height"}, "text": {"value": "e)"}}}
  ]},
 {"width": 126, "height": 1, "data": {"name": "one"}, "mark": "text", "encoding": {"text": {"value": ""}}},
 {"width": 342, "height": 269,
  "layer": [
   {"data": {"name": "solid_f"}, "mark": {"type": "rule", "stroke": "#8c8c8c", "strokeWidth": 1},
    "encoding": {"x": {"field": "v", "type": "quantitative", "title": "Current speed (m/s)", "scale": {"domain": [0, 2.5], "nice": false, "zero": false},
      "axis": {"values": [0,0.1,0.2,0.3,0.4,0.5,0.6,0.7,0.8,0.9,1,1.1,1.2,1.3,1.4,1.5,1.6,1.7,1.8,1.9,2,2.1,2.2,2.3,2.4,2.5],
       "labelExpr": "round(datum.value*10) % 5 === 0 ? '' + round(datum.value*10)/10 : ''", "grid": true, "gridDash": [1, 2], "gridColor": "#999", "gridWidth": 0.7, "ticks": false, "domain": false,
       "labelFontSize": 6, "labelPadding": 3, "labelColor": "#222", "labelOverlap": false, "labelFlush": false, "labelBound": false,
       "titleFontSize": 12, "titleFontWeight": "bold", "titlePadding": 2, "titleColor": "#111"}}}},
   {"data": {"name": "spd30"}, "mark": {"type": "line", "strokeWidth": 2.2, "interpolate": "monotone"},
    "encoding": {
     "x": {"field": "speed", "type": "quantitative", "title": "Current speed (m/s)",
      "axis": {"values": [0,0.1,0.2,0.3,0.4,0.5,0.6,0.7,0.8,0.9,1,1.1,1.2,1.3,1.4,1.5,1.6,1.7,1.8,1.9,2,2.1,2.2,2.3,2.4,2.5],
       "labelExpr": "round(datum.value*10) % 5 === 0 ? '' + round(datum.value*10)/10 : ''", "grid": true, "gridDash": [1, 2], "gridColor": "#999", "gridWidth": 0.7, "ticks": false, "domain": false,
       "labelFontSize": 6, "labelPadding": 3, "labelColor": "#222", "labelOverlap": false, "labelFlush": false, "labelBound": false,
       "titleFontSize": 12, "titleFontWeight": "bold", "titlePadding": 2, "titleColor": "#111"}},
     "y": {"field": "frequency", "type": "quantitative", "title": "Frequency", "scale": {"domain": [0, 1], "nice": false},
      "axis": {"values": [0,0.05,0.1,0.15,0.2,0.25,0.3,0.35,0.4,0.45,0.5,0.55,0.6,0.65,0.7,0.75,0.8,0.85,0.9,0.95,1],
       "labelExpr": "round(datum.value*100) % 10 === 0 ? '' + round(datum.value*100)/100 : ''", "grid": true, "gridDash": [1, 2], "gridColor": "#999", "gridWidth": 0.7, "ticks": false, "domain": false,
       "labelFontSize": 6, "labelPadding": 5, "labelColor": "#222", "labelOverlap": false, "labelFlush": false, "labelBound": false,
       "titleFontSize": 13, "titleFontWeight": "bold", "titlePadding": 1, "titleColor": "#111"}},
     "color": {"field": "series", "type": "nominal", "sort": null, "scale": {"domain": ["30m depth at location no. 7", "Exceedance curve"], "range": ["black", "#d40000"]},
      "legend": {"title": null, "orient": "top-right", "offset": 1, "strokeColor": "#444", "fillColor": "white", "padding": 3, "labelFontSize": 6.5, "labelColor": "#111",
       "symbolType": "M-1,0H2.6", "symbolSize": 121, "symbolStrokeWidth": 2.2, "labelOffset": 12.8, "rowPadding": 0,
       "labelExpr": "datum.label + '\u00a0\u00a0\u00a0\u00a0\u00a0'"}}}},
   {"data": {"name": "one"}, "mark": {"type": "text", "align": "right", "baseline": "alphabetic", "font": "Liberation Serif", "fontSize": 25, "color": "black", "dx": 61, "dy": 36.5},
    "encoding": {"x": {"value": "width"}, "y": {"value": "height"}, "text": {"value": "f)"}}}
  ]}
 ], "spacing": 0, "bounds": "flush", "resolve": {"scale": {"color": "independent"}, "legend": {"color": "independent"}}},
{"width": 956, "height": 19.2, "data": {"name": "one"}, "mark": "text", "encoding": {"text": {"value": ""}}},
{"width": 956, "height": 46, "data": {"name": "one"}, "mark": {"type": "text", "align": "center", "baseline": "alphabetic", "font": "Liberation Serif", "fontSize": 25.5, "color": "black"},
 "encoding": {"text": {"value": "Figure 10: Som Fig. 4 men for posisjon 7 (se Fig. 2)."}}},
{"width": 956, "height": 234, "data": {"name": "one"}, "mark": {"type": "text", "align": "center", "baseline": "alphabetic", "font": "Liberation Serif", "fontSize": 25, "color": "black"},
 "encoding": {"y": {"value": "height"}, "text": {"value": "13"}}}
]
}
